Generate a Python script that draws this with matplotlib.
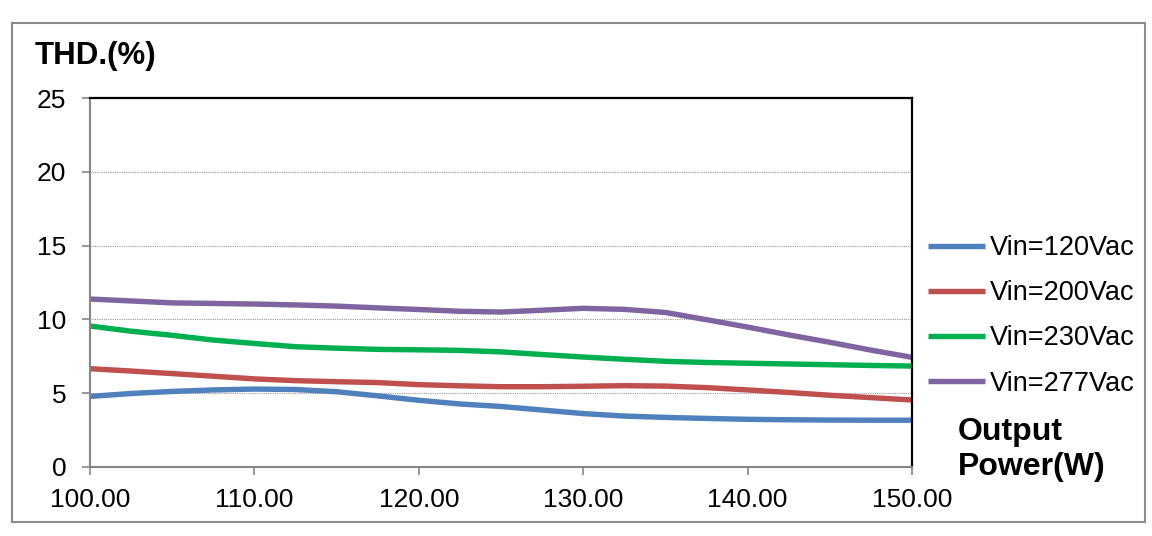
import matplotlib
matplotlib.use("Agg")
import matplotlib.pyplot as plt
from matplotlib.patches import Rectangle
from matplotlib.ticker import FormatStrFormatter

plt.rcParams['font.family'] = ['Liberation Sans', 'DejaVu Sans']

power = [100.0, 102.5, 105.0, 107.5, 110.0, 112.5, 115.0, 117.5, 120.0, 122.5, 125.0,
         127.5, 130.0, 132.5, 135.0, 137.5, 140.0, 142.5, 145.0, 147.5, 150.0]

thd_120 = [4.78, 4.98, 5.12, 5.22, 5.28, 5.25, 5.10, 4.82, 4.52, 4.27, 4.10,
           3.86, 3.62, 3.45, 3.36, 3.29, 3.23, 3.20, 3.18, 3.17, 3.17]
thd_200 = [6.66, 6.50, 6.33, 6.15, 5.97, 5.85, 5.78, 5.72, 5.58, 5.50, 5.44,
           5.44, 5.47, 5.51, 5.48, 5.38, 5.22, 5.05, 4.86, 4.70, 4.54]
thd_230 = [9.55, 9.20, 8.92, 8.60, 8.37, 8.15, 8.05, 7.97, 7.94, 7.90, 7.80,
           7.62, 7.45, 7.30, 7.16, 7.08, 7.03, 6.98, 6.93, 6.88, 6.84]
thd_277 = [11.38, 11.25, 11.12, 11.08, 11.04, 10.98, 10.90, 10.78, 10.67, 10.55, 10.50,
           10.62, 10.75, 10.68, 10.47, 9.98, 9.48, 8.95, 8.45, 7.92, 7.43]

series_labels = ["Vin=120Vac", "Vin=200Vac", "Vin=230Vac", "Vin=277Vac"]
series_values = [thd_120, thd_200, thd_230, thd_277]
series_colors = ["#4F81BD", "#C0504D", "#00B050", "#8064A2"]

x_ticks = [100, 110, 120, 130, 140, 150]
y_ticks = [0, 5, 10, 15, 20, 25]

W, H = 1152, 536
fig = plt.figure(figsize=(W / 100, H / 100), dpi=100)
fig.patch.set_facecolor("white")

# outer frame
fig.patches.append(Rectangle((12 / W, 1 - 522 / H), (1145 - 12) / W, (522 - 23) / H,
                             transform=fig.transFigure, fill=False,
                             edgecolor="#8c8c8c", linewidth=1.5))

ax = fig.add_axes([90 / W, 1 - 467 / H, (912 - 90) / W, (467 - 98) / H])

for vals, lab, col in zip(series_values, series_labels, series_colors):
    ax.plot(power, vals, color=col, lw=3.9, label=lab, solid_capstyle="butt",
            solid_joinstyle="round")

ax.set_xlim(100, 150)
ax.set_ylim(0, 25)
ax.set_xticks(x_ticks)
ax.set_yticks(y_ticks)
ax.xaxis.set_major_formatter(FormatStrFormatter("%.2f"))

for y in [5, 10, 15, 20]:
    ax.axhline(y, color="#9a9a9a", lw=0.8, ls=(0, (1, 1)), zorder=0)

ax.spines["left"].set_color("#868686")
ax.spines["bottom"].set_color("#868686")
ax.spines["left"].set_linewidth(1.5)
ax.spines["bottom"].set_linewidth(1.5)
ax.spines["top"].set_color("black")
ax.spines["right"].set_color("black")
ax.spines["top"].set_linewidth(1.6)
ax.spines["right"].set_linewidth(1.6)

ax.tick_params(axis="both", direction="out", length=6, width=1.2, color="#868686",
               labelsize=19, labelcolor="black")
ax.tick_params(axis="y", pad=11)
ax.tick_params(axis="x", pad=9)

fig.text(35 / W, 1 - 56 / H, "THD.(%)", fontsize=22.5, fontweight="bold",
         ha="left", va="center")
fig.text(958 / W, 1 - 432 / H, "Output", fontsize=23, fontweight="bold",
         ha="left", va="center")
fig.text(958 / W, 1 - 467 / H, "Power(W)", fontsize=23, fontweight="bold",
         ha="left", va="center")

handles, labels = ax.get_legend_handles_labels()
fig.legend(handles, labels, loc="upper left", bbox_to_anchor=(928 / W, 1 - 235 / H),
           frameon=False, fontsize=19.5, handlelength=2.1, handletextpad=0.2,
           labelspacing=0.71, borderpad=0, borderaxespad=0)

fig.savefig("out.png", dpi=100, facecolor="white")
